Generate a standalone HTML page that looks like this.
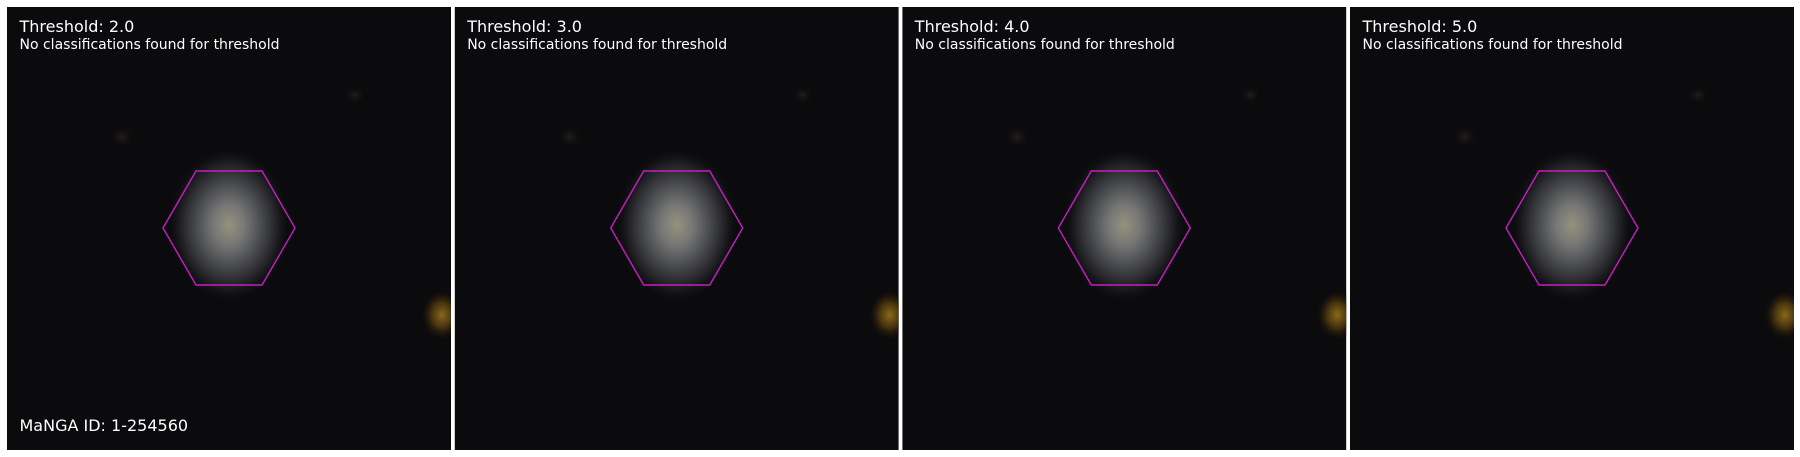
<!DOCTYPE html>
<html><head><meta charset="utf-8">
<style>
html,body{margin:0;padding:0;background:#fff;width:1800px;height:457px;overflow:hidden}
svg{display:block}
text{font-family:"DejaVu Sans","Liberation Sans",sans-serif;fill:#fff}
</style></head>
<body>
<svg id="fig" width="1800" height="457" viewBox="0 0 1800 457" xmlns="http://www.w3.org/2000/svg">
<defs>
  <radialGradient id="gal" cx="0.5" cy="0.5" r="0.5">
    <stop offset="0" stop-color="#95927c"/>
    <stop offset="0.25" stop-color="#777876"/>
    <stop offset="0.55" stop-color="#46474c"/>
    <stop offset="0.8" stop-color="#1e1e22"/>
    <stop offset="1" stop-color="#0b0a0c" stop-opacity="0"/>
  </radialGradient>
  <radialGradient id="star" cx="0.5" cy="0.5" r="0.5">
    <stop offset="0" stop-color="#8a6818"/>
    <stop offset="0.5" stop-color="#42300f"/>
    <stop offset="1" stop-color="#0b0a0c" stop-opacity="0"/>
  </radialGradient>
  <radialGradient id="blob" cx="0.5" cy="0.5" r="0.5">
    <stop offset="0" stop-color="#221e1a"/>
    <stop offset="1" stop-color="#0b0a0c" stop-opacity="0"/>
  </radialGradient>
</defs>
</svg>
<script>
const thresholds = ["2.0","3.0","4.0","5.0"];
const subtitle = "No classifications found for threshold";
const mangaId = "1-254560";
const NS="http://www.w3.org/2000/svg";
const svg=document.getElementById('fig');
const defs=svg.querySelector('defs');
const starts=[7,454.7,902.3,1350];
const W=444,H=443,T=7;
function mk(tag,attrs,parent){const e=document.createElementNS(NS,tag);for(const k in attrs)e.setAttribute(k,attrs[k]);parent.appendChild(e);return e;}
thresholds.forEach((th,i)=>{
  const x0=starts[i];
  const cp=mk('clipPath',{id:'clip'+i},defs);
  mk('rect',{x:x0,y:T,width:W,height:H},cp);
  const g=mk('g',{},svg);
  
  
  const img=mk('g',{'clip-path':'url(#clip'+i+')'},g);
  const bg=mk('rect',{x:x0,y:T,width:W,height:H,fill:'#0b0a0c'},img);
  
  
  mk('ellipse',{cx:x0+115,cy:T+130,rx:14,ry:12,fill:'url(#blob)'},img);
  mk('ellipse',{cx:x0+348,cy:T+88,rx:12,ry:10,fill:'url(#blob)'},img);
  const gal=mk('ellipse',{cx:x0+222,cy:T+218,rx:62,ry:78,fill:'url(#gal)'},img);
  
  
  const st=mk('ellipse',{cx:x0+435,cy:T+308,rx:22,ry:26,fill:'url(#star)'},img);
  
  
  const cx=x0+222,cy=228;
  const pts=[[cx-66,cy],[cx-33,cy-57],[cx+33,cy-57],[cx+66,cy],[cx+33,cy+57],[cx-33,cy+57]].map(p=>p.join(',')).join(' ');
  const hex=mk('polygon',{points:pts,fill:'none',stroke:'#c31ec3','stroke-width':1.4},g);
  
  
  const t1=mk('text',{x:x0+12.5,y:32,'font-size':'16px'},g);
  t1.textContent='Threshold: '+th;
  
  
  const t2=mk('text',{x:x0+12.5,y:49,'font-size':'14px'},g);
  t2.textContent=subtitle;
  
  
  if(i===0){
    const t3=mk('text',{x:x0+12.5,y:431,'font-size':'16px'},g);
    t3.textContent='MaNGA ID: '+mangaId;
    
    
  }
});
</script>
</body></html>
